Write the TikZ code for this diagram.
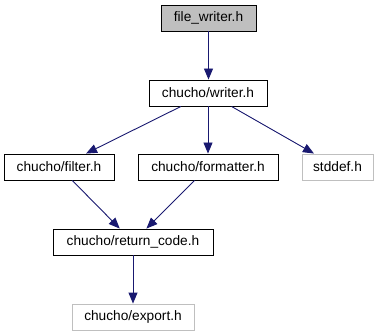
\documentclass[tikz,border=0pt]{standalone}
\usepackage{fontspec}
\setmainfont{Liberation Sans}
\usetikzlibrary{arrows.meta}
\definecolor{edgeblue}{HTML}{191970}
\definecolor{boxgray}{HTML}{BFBFBF}
\tikzset{
	hdr/.style={draw=black, fill=white, line width=0.9pt, minimum height=26pt, inner sep=0pt, font=\fontsize{13.7}{16}\selectfont},
	hdrroot/.style={hdr, fill=boxgray},
	hdrsys/.style={hdr, draw=boxgray},
	incl/.style={draw=edgeblue, line width=0.9pt, -{Triangle[length=11pt, width=9pt]}}
}

\begin{document}
\begin{tikzpicture}[x=1pt, y=-1pt]
		%%%%% START %%%%%
		\useasboundingbox (0, 0) rectangle (379, 336);
		
		\node[hdrroot, minimum width=95pt] (fw) at (208.5, 18) {file\_writer.h};
		\node[hdr, minimum width=118pt] (wr) at (208, 93) {chucho/writer.h};
		
		\node[hdr, minimum width=110pt] (flt) at (59, 167) {chucho/filter.h};
		\node[hdr, minimum width=140pt] (fmt) at (208, 167) {chucho/formatter.h};
		\node[hdrsys, minimum width=71pt] (sd) at (337.5, 167) {stddef.h};
		
		\node[hdr, minimum width=160pt] (rc) at (133, 242) {chucho/return\_code.h};
		\node[hdrsys, minimum width=122pt] (ex) at (133, 317) {chucho/export.h};
		
		\draw[incl] (fw) -- (fw |- wr.north);
		\draw[incl] (wr) -- (flt);
		\draw[incl] (wr) -- (fmt);
		\draw[incl] (wr) -- (sd);
		\draw[incl] (flt) -- (rc);
		\draw[incl] (fmt) -- (rc);
		\draw[incl] (rc) -- (ex);
		%%%%% END %%%%%
	\end{tikzpicture}
\end{document}
